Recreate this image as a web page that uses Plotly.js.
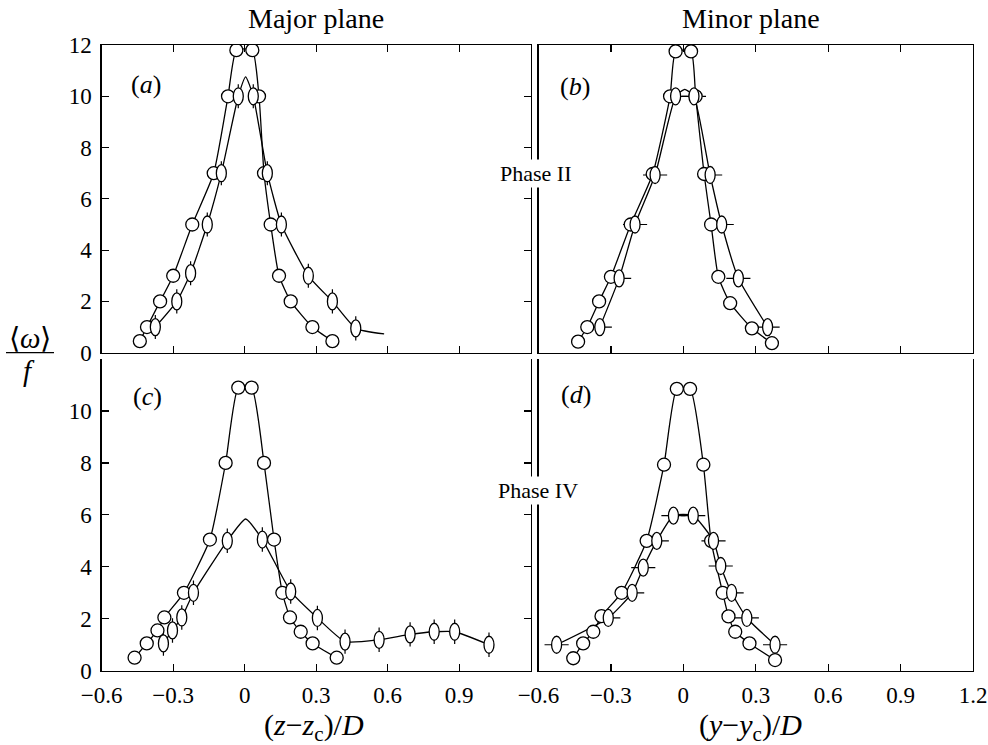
<!DOCTYPE html>
<html>
<head>
<meta charset="utf-8">
<script src="https://cdn.plot.ly/plotly-3.0.1.min.js"></script>
<style>html,body{margin:0;padding:0;background:#fff;}#plot{width:988px;height:745px;}</style>
</head>
<body>
<div id="plot"></div>
<script>
// ---------- DATA ----------
// Panel (a): major plane, phase II
const a_circ_x = [-0.44,-0.41,-0.355,-0.30,-0.22,-0.13,-0.07,-0.035,0.032,0.06,0.081,0.109,0.144,0.193,0.284,0.368];
const a_circ_y = [0.45,1.0,2.0,3.0,5.0,7.0,10.0,11.8,11.8,10.0,7.0,5.0,3.0,2.0,1.0,0.45];
const a_ell_x  = [-0.375,-0.285,-0.227,-0.157,-0.098,-0.027,0.036,0.095,0.154,0.267,0.368,0.466];
const a_ell_y  = [1.0,2.0,3.1,5.0,7.0,10.0,10.0,7.0,5.0,3.0,2.0,0.95];
const a_curve_x = [-0.375,-0.285,-0.227,-0.157,-0.098,-0.027,0.004,0.036,0.095,0.154,0.267,0.368,0.466,0.585];
const a_curve_y = [1.0,2.0,3.1,5.0,7.0,10.0,10.76,10.0,7.0,5.0,3.0,2.0,0.95,0.73];

// Panel (b): minor plane, phase II
const b_circ_x = [-0.436,-0.398,-0.349,-0.300,-0.218,-0.127,-0.055,-0.032,0.032,0.051,0.086,0.115,0.145,0.194,0.284,0.367];
const b_circ_y = [0.43,1.0,2.0,2.96,5.0,6.97,10.0,11.75,11.75,10.0,6.97,5.0,2.96,1.93,0.95,0.37];
const b_ell_x  = [-0.346,-0.266,-0.200,-0.117,-0.032,0.044,0.111,0.159,0.228,0.349];
const b_ell_y  = [1.0,2.9,5.0,6.93,10.0,10.0,6.93,5.0,2.9,1.0];
const b_curve_x = [-0.346,-0.266,-0.200,-0.117,-0.032,0.006,0.044,0.111,0.159,0.228,0.349];
const b_curve_y = [1.0,2.9,5.0,6.93,10.0,10.27,10.0,6.93,5.0,2.9,1.0];

// Panel (c): major plane, phase IV
const c_circ_x = [-0.462,-0.411,-0.366,-0.337,-0.255,-0.146,-0.080,-0.027,0.029,0.081,0.123,0.158,0.19,0.235,0.285,0.386];
const c_circ_y = [0.5,1.05,1.55,2.05,3.0,5.05,8.0,10.9,10.9,8.0,5.05,3.0,2.05,1.5,1.05,0.5];
const c_ell_x  = [-0.341,-0.303,-0.264,-0.215,-0.073,0.074,0.193,0.305,0.421,0.564,0.694,0.795,0.881,1.025];
const c_ell_y  = [1.05,1.55,2.05,3.0,5.0,5.05,3.05,2.03,1.12,1.19,1.4,1.5,1.5,1.0];
const c_curve_x = [-0.341,-0.303,-0.264,-0.215,-0.073,0.004,0.074,0.193,0.305,0.421,0.564,0.694,0.795,0.881,1.025];
const c_curve_y = [1.05,1.55,2.05,3.0,5.0,5.84,5.05,3.05,2.03,1.12,1.19,1.4,1.5,1.5,1.0];

// Panel (d): minor plane, phase IV
const d_circ_x = [-0.456,-0.415,-0.373,-0.339,-0.256,-0.152,-0.080,-0.027,0.028,0.083,0.115,0.163,0.187,0.215,0.274,0.38];
const d_circ_y = [0.48,1.05,1.5,2.1,3.0,5.0,7.93,10.85,10.85,7.93,5.0,3.0,2.09,1.5,1.05,0.41];
const d_ell_x  = [-0.525,-0.311,-0.212,-0.166,-0.110,-0.041,0.041,0.125,0.155,0.2,0.263,0.38];
const d_ell_y  = [1.0,2.03,3.0,3.97,5.0,5.97,5.97,5.0,4.03,3.0,2.03,1.0];

// Tick labels
const x_ticks_left   = [-0.6,-0.3,0,0.3,0.6,0.9];
const x_text_left    = ['\u22120.6','\u22120.3','0','0.3','0.6','0.9'];
const x_ticks_right  = [-0.6,-0.3,0,0.3,0.6,0.9,1.2];
const x_text_right   = ['\u22120.6','\u22120.3','0','0.3','0.6','0.9','1.2'];
const x_ticks_inner  = [-0.3,0,0.3,0.6,0.9];
const y_ticks_top    = [0,2,4,6,8,10,12];
const y_ticks_bottom = [0,2,4,6,8,10];

// ---------- STYLE ----------
const FONT = 'Liberation Serif, serif';
const LW = 1.3;
const BAR_Y = 0.47;   // vertical bar half-length (data units)
const BAR_X = 0.05;   // horizontal bar half-length (data units)
const ELL_RX = 5, ELL_RY = 8.5; // ellipse radii in pixels

const traces = [];
function circles(x, y, xa, ya) {
  traces.push({x:x, y:y, xaxis:xa, yaxis:ya, type:'scatter', mode:'lines+markers',
    line:{color:'black', width:LW, shape:'spline', smoothing:0.5},
    marker:{symbol:'circle', size:13, color:'white', line:{color:'black', width:LW}},
    hoverinfo:'skip', showlegend:false});
}
function curve(x, y, xa, ya) {
  traces.push({x:x, y:y, xaxis:xa, yaxis:ya, type:'scatter', mode:'lines',
    line:{color:'black', width:LW, shape:'spline', smoothing:0.5},
    hoverinfo:'skip', showlegend:false});
}
function bars(x, y, xa, ya, vertical) {
  const t = {x:x, y:y, xaxis:xa, yaxis:ya, type:'scatter', mode:'markers',
    marker:{size:2, color:'rgba(0,0,0,0)'}, hoverinfo:'skip', showlegend:false};
  const eb = {type:'constant', width:0, thickness:1.2, color:'black', visible:true};
  if (vertical) t.error_y = Object.assign({value:BAR_Y}, eb);
  else t.error_x = Object.assign({value:BAR_X}, eb);
  traces.push(t);
}
const shapes = [];
function ellipses(x, y, xa, ya) {
  for (let i = 0; i < x.length; i++) {
    shapes.push({type:'circle', xref:xa, yref:ya, xsizemode:'pixel', ysizemode:'pixel',
      xanchor:x[i], yanchor:y[i], x0:-ELL_RX, x1:ELL_RX, y0:-ELL_RY, y1:ELL_RY,
      fillcolor:'white', line:{color:'black', width:LW}, layer:'above'});
  }
}

// (a)
curve(a_curve_x, a_curve_y, 'x', 'y');
bars(a_ell_x, a_ell_y, 'x', 'y', true);
circles(a_circ_x, a_circ_y, 'x', 'y');
ellipses(a_ell_x, a_ell_y, 'x', 'y');
// (b)
curve(b_curve_x, b_curve_y, 'x2', 'y2');
bars(b_ell_x, b_ell_y, 'x2', 'y2', false);
circles(b_circ_x, b_circ_y, 'x2', 'y2');
ellipses(b_ell_x, b_ell_y, 'x2', 'y2');
// (c)
curve(c_curve_x, c_curve_y, 'x3', 'y3');
bars(c_ell_x, c_ell_y, 'x3', 'y3', true);
circles(c_circ_x, c_circ_y, 'x3', 'y3');
ellipses(c_ell_x, c_ell_y, 'x3', 'y3');
// (d)
curve(d_ell_x, d_ell_y, 'x4', 'y4');
bars(d_ell_x, d_ell_y, 'x4', 'y4', false);
circles(d_circ_x, d_circ_y, 'x4', 'y4');
ellipses(d_ell_x, d_ell_y, 'x4', 'y4');

// fraction bar of the y label
shapes.push({type:'line', xref:'paper', yref:'paper', x0:6/988, x1:54/988, y0:1-352.7/745, y1:1-352.7/745,
  line:{color:'black', width:1.3}});

const DOM_L = [101.7/988, 530.7/988];
const DOM_R = [538.5/988, 973/988];
const DOM_T = [1-352.7/745, 1-45/745];
const DOM_B = [1-670.7/745, 1-359/745];

function ax(extra) {
  return Object.assign({showline:true, linecolor:'black', linewidth:LW, ticks:'inside', ticklen:7,
    tickwidth:1.2, tickcolor:'black', showgrid:false, zeroline:false, fixedrange:true,
    tickfont:{family:FONT, size:23, color:'black'}}, extra);
}

function ann(text, px, py, size, extra) {
  return Object.assign({text:text, xref:'paper', yref:'paper', x:px/988, y:1-py/745,
    xanchor:'center', yanchor:'middle', showarrow:false, font:{family:FONT, size:size, color:'black'}}, extra || {});
}

const layout = {
  width:988, height:745, margin:{l:0, r:0, t:0, b:0, autoexpand:false},
  paper_bgcolor:'white', plot_bgcolor:'white', showlegend:false,
  font:{family:FONT, color:'black'},
  xaxis:  ax({domain:DOM_L, anchor:'y',  range:[-0.6,1.2], tickmode:'array', tickvals:x_ticks_inner, showticklabels:false, mirror:'ticks'}),
  xaxis2: ax({domain:DOM_R, anchor:'y2', range:[-0.6,1.2], tickmode:'array', tickvals:x_ticks_inner, showticklabels:false, mirror:'ticks'}),
  xaxis3: ax({domain:DOM_L, anchor:'y3', range:[-0.6,1.2], tickmode:'array', tickvals:x_ticks_left, ticktext:x_text_left, mirror:false, ticklabelstandoff:3}),
  xaxis4: ax({domain:DOM_R, anchor:'y4', range:[-0.6,1.2], tickmode:'array', tickvals:x_ticks_right, ticktext:x_text_right, mirror:false, ticklabelstandoff:3}),
  yaxis:  ax({domain:DOM_T, anchor:'x',  range:[0,12], tickmode:'array', tickvals:y_ticks_top, mirror:'ticks', ticklabelstandoff:4}),
  yaxis2: ax({domain:DOM_T, anchor:'x2', range:[0,12], ticks:'', showticklabels:false, mirror:true}),
  yaxis3: ax({domain:DOM_B, anchor:'x3', range:[0,12], tickmode:'array', tickvals:y_ticks_bottom, mirror:'ticks', ticklabelstandoff:4}),
  yaxis4: ax({domain:DOM_B, anchor:'x4', range:[0,12], ticks:'', showticklabels:false, mirror:true}),
  shapes: shapes,
  annotations: [
    ann('Major plane', 316, 18, 28),
    ann('Minor plane', 751, 18, 28),
    ann('(<i>a</i>)', 146, 85, 26),
    ann('(<i>b</i>)', 575, 86, 26),
    ann('(<i>c</i>)', 147, 396, 26),
    ann('(<i>d</i>)', 576, 394, 26),
    ann('Phase II', 535, 173, 22, {bgcolor:'white'}),
    ann('Phase IV', 538, 490, 22, {bgcolor:'white'}),
    ann('\u27E8<i>\u03C9</i>\u27E9', 30, 338, 29),
    ann('<i>f</i>', 29, 371, 29),
    ann('(<i>z</i>\u2212<i>z</i><sub>c</sub>)/<i>D</i>', 314, 727, 30),
    ann('(<i>y</i>\u2212<i>y</i><sub>c</sub>)/<i>D</i>', 750, 727, 30)
  ]
};

Plotly.newPlot('plot', traces, layout, {staticPlot:true, displayModeBar:false});
</script>
</body>
</html>
